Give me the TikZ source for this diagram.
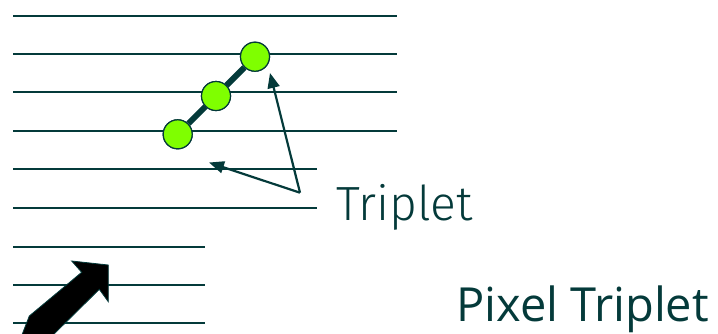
\documentclass[tikz,border=0pt]{standalone}
\usepackage{fontspec}
\setmainfont{Open Sans}
\newfontfamily\lightfont{Fira Sans Light}
\usetikzlibrary{arrows.meta}
\definecolor{dteal}{RGB}{4,58,58}
\definecolor{lgreen}{RGB}{127,255,0}
\begin{document}
\begin{tikzpicture}[x=1pt,y=-1pt,
  rule/.style={draw=dteal,line width=2pt},
  dot/.style={circle,draw=dteal,line width=1.2pt,fill=lgreen,minimum size=29pt,inner sep=0pt},
  pointer/.style={draw=dteal,line width=2.2pt,-{Triangle[length=15pt,width=12pt]}},
  lbl/.style={text=dteal,inner sep=0pt,anchor=base west}]
\useasboundingbox (0,0) rectangle (718,333);
\clip (0,0) rectangle (718,333);
% staff lines
\foreach \y in {15.7,54,92.3,130.7} \draw[rule] (13,\y) -- (397,\y);
\foreach \y in {169.3,208.3} \draw[rule] (13,\y) -- (317,\y);
\foreach \y in {246.7,285,323.3} \draw[rule] (13,\y) -- (205,\y);
% triplet
\node[dot] (c1) at (177.7,134.3) {};
\node[dot] (c2) at (216,96) {};
\node[dot] (c3) at (255,56.7) {};
\draw[dteal,line width=6pt] (c1) -- (c2) -- (c3);
\node[dot] at (c1) {};
\node[dot] at (c2) {};
\node[dot] at (c3) {};
% pointers
\coordinate (apex) at (300,192.7);
\coordinate (t1) at (270,73);
\coordinate (t2) at (209,162.5);
\draw[pointer] (apex) -- (t1);
\draw[pointer] (apex) -- (t2);
% labels
\node[lbl,font=\lightfont\fontsize{48}{48}\selectfont] (trip) at (336,220.5) {Triplet};
\node[lbl,font=\fontsize{47}{47}\selectfont] (pix) at (456,321.5) {Pixel Triplet};
% big arrow
\draw[fill=black,draw=dteal,line width=0.8pt]
  (29.3,316) -- (81.7,272.3) -- (71.7,261) -- (108.3,265) -- (108.3,301.7)
  -- (99.3,289.3) -- (48,340) -- (20,340) -- cycle;
\end{tikzpicture}
\end{document}
